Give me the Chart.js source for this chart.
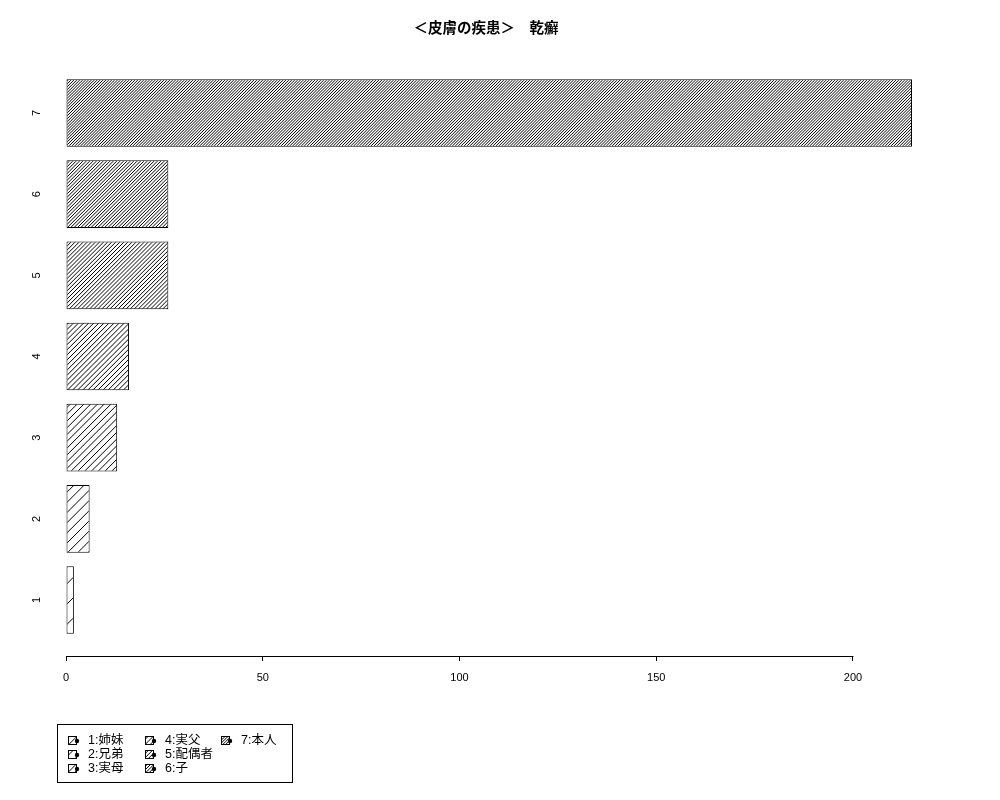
<!DOCTYPE html>
<html>
<head>
<meta charset="utf-8">
<script src="https://cdn.jsdelivr.net/npm/chart.js@4"></script>
<style>
  html, body { margin: 0; padding: 0; background: #fff; }
  canvas { display: block; }
</style>
</head>
<body>
<canvas id="skinChart" width="1000" height="800"></canvas>
<script>
'use strict'

const titleText = '＜皮膚の疾患＞　乾癬'
const categories = ['1', '2', '3', '4', '5', '6', '7']
const counts = [2, 6, 13, 16, 26, 26, 215]
const legendLabels = ['1:姉妹', '2:兄弟', '3:実母', '4:実父', '5:配偶者', '6:子', '7:本人']
const xTicks = [0, 50, 100, 150, 200]

const FONT = "'Liberation Sans', 'Noto Sans CJK JP', sans-serif"

// hatch lines per 61px tile, one step denser for every bar
const hatchLines = [3, 6, 9, 12, 15, 18, 21]

const canvas = document.getElementById('skinChart')
const ctx = canvas.getContext('2d')

const makeHatch = (n) => {
  const size = 61
  const tile = document.createElement('canvas')
  tile.width = size
  tile.height = size
  const c = tile.getContext('2d')
  c.fillStyle = '#fff'
  c.fillRect(0, 0, size, size)
  c.strokeStyle = '#000'
  c.lineWidth = 1
  const step = size / n
  c.beginPath()
  for (let k = -1; k <= 2 * n + 1; k++) {
    const d = k * step
    c.moveTo(d + 2, -2)
    c.lineTo(-2, d + 2)
  }
  c.stroke()
  return ctx.createPattern(tile, 'repeat')
}

const patterns = hatchLines.map(makeHatch)

// R style axis line, only from first to last tick
const axisLine = {
  id: 'axisLine',
  afterDraw (chart) {
    const s = chart.scales.x
    const y = Math.round(chart.chartArea.bottom) + 0.5
    const c = chart.ctx
    c.save()
    c.strokeStyle = '#000'
    c.lineWidth = 1
    c.beginPath()
    c.moveTo(Math.round(s.getPixelForValue(xTicks[0])) + 0.5, y)
    c.lineTo(Math.round(s.getPixelForValue(xTicks[xTicks.length - 1])) + 0.5, y)
    c.stroke()
    c.restore()
  }
}

const legendBox = { left: 57, top: 724, width: 235, height: 58 }

const rLegend = {
  id: 'rLegend',
  afterDraw (chart) {
    const c = chart.ctx
    c.save()
    c.strokeStyle = '#000'
    c.lineWidth = 1
    c.strokeRect(legendBox.left + 0.5, legendBox.top + 0.5, legendBox.width, legendBox.height)
    c.font = '12.5px ' + FONT
    c.textBaseline = 'middle'
    legendLabels.forEach((label, i) => {
      const col = Math.floor(i / 3)
      const row = i % 3
      const x = Math.round(legendBox.left + 11 + col * 76.5)
      const y = Math.round(legendBox.top + 16 + row * 13.8)
      c.fillStyle = patterns[i]
      c.fillRect(x, y - 4, 9, 9)
      c.strokeStyle = '#000'
      c.strokeRect(x + 0.5, y - 3.5, 8, 8)
      c.fillStyle = '#000'
      c.beginPath()
      c.arc(x + 9, y + 1, 2.2, 0, Math.PI * 2)
      c.fill()
      c.fillText(label, x + 20, y + 0.5)
    })
    c.restore()
  }
}

const chart = new Chart(ctx, {
  type: 'bar',
  data: {
    labels: categories,
    datasets: [{
      data: categories.map((c, i) => ({ x: counts[i], y: Number(c) })),
      backgroundColor: patterns,
      borderColor: '#000',
      borderWidth: 1,
      borderSkipped: false,
      categoryPercentage: 1,
      barPercentage: 1 / 1.2
    }]
  },
  options: {
    indexAxis: 'y',
    responsive: false,
    animation: false,
    devicePixelRatio: 1,
    layout: { padding: { left: 0, right: 85, top: 0, bottom: 0 } },
    scales: {
      x: {
        type: 'linear',
        min: -2.29,
        max: 215.76,
        grid: { drawOnChartArea: false, tickLength: 5, color: '#000' },
        border: { display: false },
        afterBuildTicks: (s) => { s.ticks = xTicks.map(v => ({ value: v })) },
        afterFit: (s) => { s.height = 144 },
        ticks: {
          padding: 10,
          maxRotation: 0,
          color: '#000',
          font: { size: 11, family: FONT },
          callback: (v) => String(v)
        }
      },
      y: {
        type: 'linear',
        offset: false,
        min: 0.31,
        max: 7.69,
        grid: { display: false, drawTicks: false, offset: false },
        border: { display: false },
        afterBuildTicks: (s) => { s.ticks = categories.map(c => ({ value: Number(c) })) },
        afterFit: (s) => { s.width = 57 },
        ticks: {
          minRotation: 90,
          maxRotation: 90,
          crossAlign: 'center',
          padding: 17,
          color: '#000',
          font: { size: 11, family: FONT },
          callback: (v) => String(v)
        }
      }
    },
    plugins: {
      legend: { display: false },
      tooltip: { enabled: false },
      title: {
        display: true,
        text: titleText,
        fullSize: false,
        color: '#000',
        font: { size: 14.5, weight: 'bold', family: FONT },
        padding: { top: 20, bottom: 19.6 }
      }
    }
  },
  plugins: [axisLine, rLegend]
})
</script>
</body>
</html>
